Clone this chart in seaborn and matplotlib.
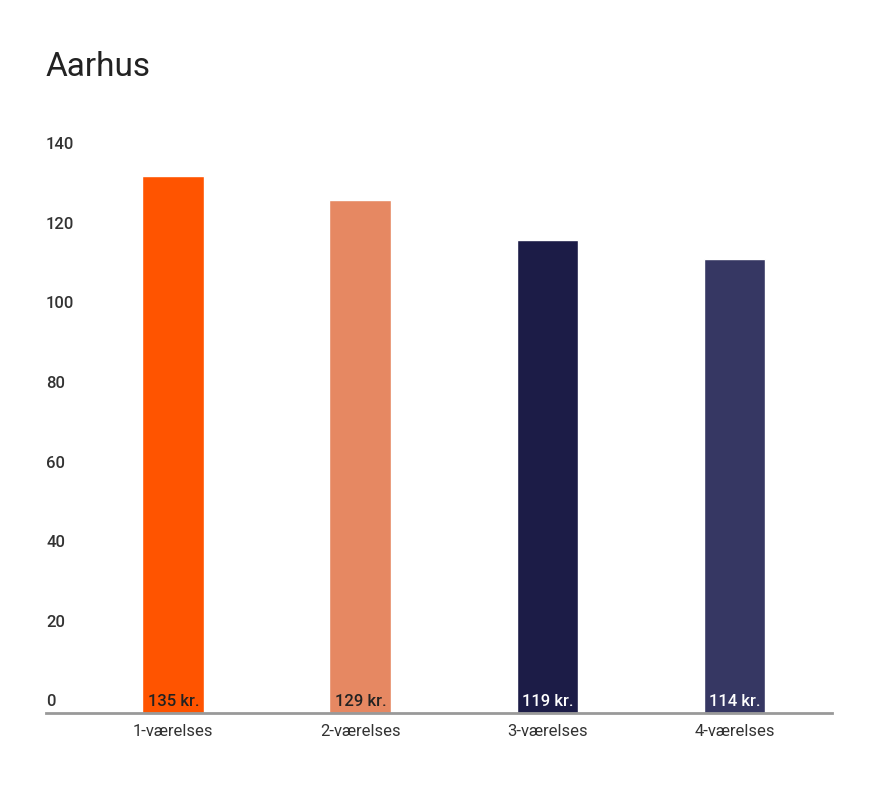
import matplotlib
matplotlib.use("Agg")
import matplotlib.pyplot as plt
import matplotlib.transforms as mtransforms
import seaborn as sns

categories = ["1-værelses", "2-værelses", "3-værelses", "4-værelses"]
values = [135, 129, 119, 114]
bar_labels = ["135 kr.", "129 kr.", "119 kr.", "114 kr."]
colors = ["#FF5400", "#E68862", "#1C1C47", "#363763"]
label_colors = ["#222222", "#222222", "white", "white"]
yticks = [0, 20, 40, 60, 80, 100, 120, 140]

sns.set_style("white")
plt.rcParams["font.family"] = ["Roboto", "DejaVu Sans"]

fig = plt.figure(figsize=(8.77, 7.87), dpi=100)
ax = fig.add_axes([0.0525, 0.094, 0.896, 0.7078])

sns.barplot(x=categories, y=values, hue=categories, palette=colors,
            width=0.33, legend=False, ax=ax, saturation=1)

ax.set_xlim(-0.68, 3.52)
ax.set_ylim(0, 140)
ax.set_yticks([])
ax.tick_params(axis="x", length=0, labelsize=12, colors="#333333", pad=8)
for s in ["top", "right", "left"]:
    ax.spines[s].set_visible(False)
ax.spines["bottom"].set_color("#999999")
ax.spines["bottom"].set_linewidth(2)

trans = mtransforms.blended_transform_factory(ax.transAxes, ax.transData)
for t in yticks:
    ax.text(0, t + 2.8, str(t), transform=trans, ha="left", va="center",
            fontsize=12, color="#333333", fontweight="medium")

for i, (lab, c) in enumerate(zip(bar_labels, label_colors)):
    ax.text(i, 2.8, lab, ha="center", va="center", fontsize=12,
            color=c, fontweight="medium")

fig.text(46 / 877, 1 - 67 / 787, "Aarhus", ha="left", va="center",
         fontsize=24, color="#222222")

fig.savefig("out.png", dpi=100)
